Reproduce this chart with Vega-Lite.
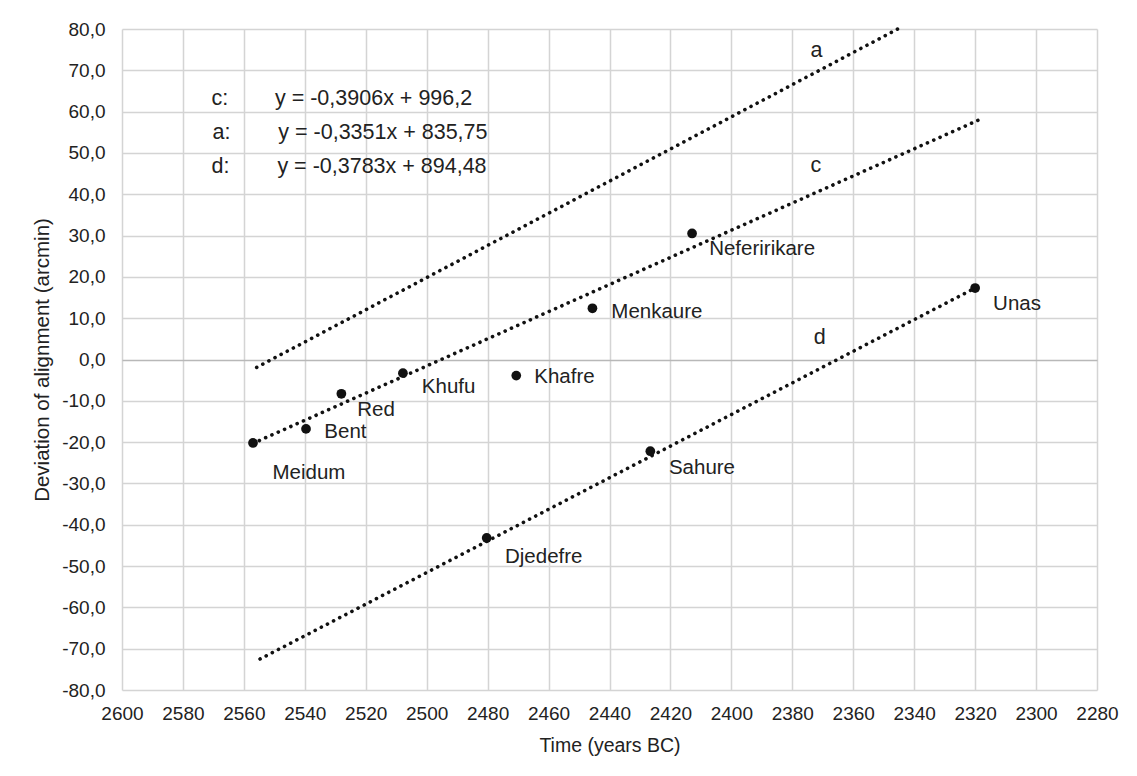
{
  "$schema": "https://vega.github.io/schema/vega-lite/v6.json",
  "width": 975,
  "height": 661,
  "autosize": {"type": "none"},
  "padding": {"left": 122, "top": 29, "right": 40, "bottom": 86},
  "background": "white",
  "config": {
    "view": {"stroke": null},
    "font": "Liberation Sans",
    "axis": {
      "domain": false,
      "ticks": false,
      "grid": true,
      "gridColor": {"condition": {"test": "datum.value === 0", "value": "#b8b8b8"}, "value": "#d4d4d4"},
      "gridWidth": 1.5,
      "labelFont": "Liberation Sans",
      "labelFontSize": 19,
      "labelColor": "#222222",
      "titleFont": "Liberation Sans",
      "titleFontSize": 19.5,
      "titleFontWeight": "normal",
      "titleColor": "#222222",
      "labelFlush": false,
      "labelOverlap": false
    }
  },
  "datasets": {
    "pyramids": [
      {"name": "Meidum", "year": 2557, "dev": -20.2},
      {"name": "Bent", "year": 2539.6, "dev": -16.8},
      {"name": "Red", "year": 2528, "dev": -8.3},
      {"name": "Khufu", "year": 2507.8, "dev": -3.3},
      {"name": "Khafre", "year": 2470.6, "dev": -3.9},
      {"name": "Djedefre", "year": 2480.3, "dev": -43.2},
      {"name": "Menkaure", "year": 2445.6, "dev": 12.4},
      {"name": "Sahure", "year": 2426.6, "dev": -22.2},
      {"name": "Neferirikare", "year": 2412.9, "dev": 30.5},
      {"name": "Unas", "year": 2320, "dev": 17.3}
    ],
    "names": [
      {"text": "Meidum", "year": 2550.6, "dev": -27.5},
      {"text": "Bent", "year": 2533.6, "dev": -17.5},
      {"text": "Red", "year": 2522.8, "dev": -12.2},
      {"text": "Khufu", "year": 2501.6, "dev": -6.6},
      {"text": "Khafre", "year": 2464.7, "dev": -4.3},
      {"text": "Djedefre", "year": 2474.3, "dev": -47.7},
      {"text": "Menkaure", "year": 2439.4, "dev": 11.6},
      {"text": "Neferirikare", "year": 2407.3, "dev": 26.8},
      {"text": "Sahure", "year": 2420.5, "dev": -26.3},
      {"text": "Unas", "year": 2314.1, "dev": 13.5}
    ],
    "notes": [
      {"text": "a", "year": 2374, "dev": 74.6},
      {"text": "c", "year": 2374, "dev": 46.8},
      {"text": "d", "year": 2373, "dev": 5.2},
      {"text": "c:", "year": 2570.6, "dev": 63.1},
      {"text": "a:", "year": 2570.3, "dev": 54.8},
      {"text": "d:", "year": 2570.6, "dev": 46.5},
      {"text": "y = -0,3906x + 996,2", "year": 2549.8, "dev": 63.1},
      {"text": "y = -0,3351x + 835,75", "year": 2548.7, "dev": 54.8},
      {"text": "y = -0,3783x + 894,48", "year": 2549, "dev": 46.5}
    ],
    "lines": [
      {"line": "a", "year": 2555.8, "dev": -1.9},
      {"line": "a", "year": 2345.4, "dev": 80},
      {"line": "c", "year": 2557, "dev": -20.3},
      {"line": "c", "year": 2318.7, "dev": 58.0},
      {"line": "d", "year": 2554.7, "dev": -72.5},
      {"line": "d", "year": 2320, "dev": 17.3}
    ]
  },
  "encoding": {
    "x": {
      "field": "year",
      "type": "quantitative",
      "scale": {"domain": [2280, 2600], "reverse": true, "nice": false, "zero": false},
      "axis": {
        "values": [2280, 2300, 2320, 2340, 2360, 2380, 2400, 2420, 2440, 2460, 2480, 2500, 2520, 2540, 2560, 2580, 2600],
        "format": "d",
        "title": "Time (years BC)",
        "labelPadding": 14,
        "titleY": 55,
        "titleBaseline": "middle"
      }
    },
    "y": {
      "field": "dev",
      "type": "quantitative",
      "scale": {"domain": [-80, 80], "nice": false, "zero": false},
      "axis": {
        "values": [-80, -70, -60, -50, -40, -30, -20, -10, 0, 10, 20, 30, 40, 50, 60, 70, 80],
        "labelExpr": "(datum.value < 0 ? '-' : '') + replace(format(abs(datum.value), '.1f'), '.', ',')",
        "labelPadding": 17,
        "title": "Deviation of alignment  (arcmin)",
        "titleFontSize": 20.5,
        "titleX": -80,
        "titleBaseline": "middle"
      }
    }
  },
  "layer": [
    {
      "data": {"name": "lines"},
      "mark": {"type": "line", "color": "#111111", "strokeWidth": 3.6, "strokeDash": [0.1, 6.8], "strokeCap": "round"},
      "encoding": {"detail": {"field": "line"}}
    },
    {
      "data": {"name": "pyramids"},
      "mark": {"type": "circle", "color": "#111111", "opacity": 1, "size": 95}
    },
    {
      "data": {"name": "names"},
      "mark": {"type": "text", "align": "left", "baseline": "middle", "fontSize": 20.5, "color": "#222222", "font": "Liberation Sans"},
      "encoding": {"text": {"field": "text"}}
    },
    {
      "data": {"name": "notes"},
      "mark": {"type": "text", "align": "left", "baseline": "middle", "fontSize": 21.5, "color": "#222222", "font": "Liberation Sans"},
      "encoding": {"text": {"field": "text"}}
    }
  ]
}
